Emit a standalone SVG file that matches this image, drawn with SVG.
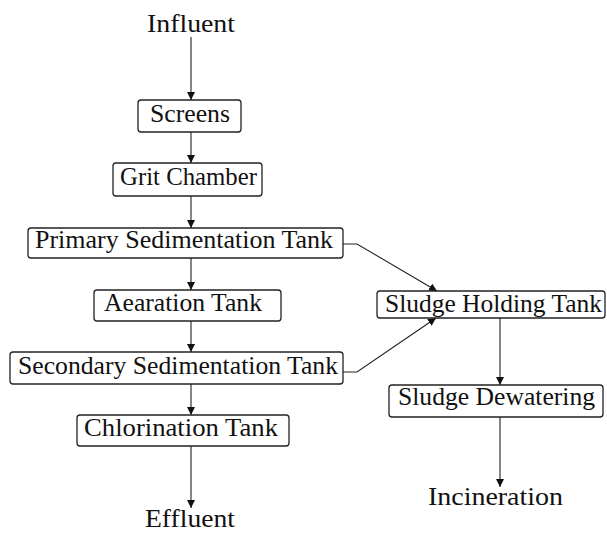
<svg xmlns="http://www.w3.org/2000/svg" width="607" height="534" viewBox="0 0 607 534">
<style>
.box{fill:#fff;stroke:#222;stroke-width:1.3}
.t{font-family:"Liberation Serif","DejaVu Serif",serif;font-size:25px;fill:#111;text-anchor:middle}
.c{fill:none;stroke:#222;stroke-width:1.1}
</style>
<defs>
<marker id="ah" markerUnits="userSpaceOnUse" markerWidth="9" markerHeight="9" refX="8" refY="4" orient="auto">
<path d="M0,0 L8,4 L0,8 z" fill="#111"/>
</marker>
</defs>
<rect width="607" height="534" fill="#fff"/>
<g id="connectors">
<path class="c" d="M191,37 V100" marker-end="url(#ah)"/>
<path class="c" d="M191,132 V163" marker-end="url(#ah)"/>
<path class="c" d="M191,196 V228" marker-end="url(#ah)"/>
<path class="c" d="M191,258 V290" marker-end="url(#ah)"/>
<path class="c" d="M191,321 V352" marker-end="url(#ah)"/>
<path class="c" d="M191,384 V415" marker-end="url(#ah)"/>
<path class="c" d="M191,446 V508" marker-end="url(#ah)"/>
<path class="c" d="M343,244 H357 L437,291" marker-end="url(#ah)"/>
<path class="c" d="M343,372 H357 L436,318" marker-end="url(#ah)"/>
<path class="c" d="M500,318 V385" marker-end="url(#ah)"/>
<path class="c" d="M500,417 V487" marker-end="url(#ah)"/>
</g>
<g id="influent"><text class="t" x="191" y="32" textLength="88" lengthAdjust="spacingAndGlyphs">Influent</text></g>
<g id="screens"><rect class="box" x="138" y="100" width="103" height="32" rx="3"/><text class="t" x="190" y="122" textLength="80" lengthAdjust="spacingAndGlyphs">Screens</text></g>
<g id="grit"><rect class="box" x="113" y="163" width="149" height="33" rx="3"/><text class="t" x="188.5" y="185" textLength="137" lengthAdjust="spacingAndGlyphs">Grit Chamber</text></g>
<g id="primary"><rect class="box" x="28" y="228" width="315" height="30" rx="3"/><text class="t" x="184" y="248" textLength="298" lengthAdjust="spacingAndGlyphs">Primary Sedimentation Tank</text></g>
<g id="aeration"><rect class="box" x="94" y="290" width="187" height="31" rx="3"/><text class="t" x="183" y="311" textLength="158" lengthAdjust="spacingAndGlyphs">Aearation Tank</text></g>
<g id="secondary"><rect class="box" x="10" y="352" width="333" height="32" rx="3"/><text class="t" x="178" y="374" textLength="320" lengthAdjust="spacingAndGlyphs">Secondary Sedimentation Tank</text></g>
<g id="chlorination"><rect class="box" x="77" y="415" width="212" height="31" rx="3"/><text class="t" x="181" y="436" textLength="194" lengthAdjust="spacingAndGlyphs">Chlorination Tank</text></g>
<g id="effluent"><text class="t" x="190" y="527" textLength="90" lengthAdjust="spacingAndGlyphs">Effluent</text></g>
<g id="holding"><rect class="box" x="377" y="291" width="228" height="27" rx="3"/><text class="t" x="493.5" y="312" textLength="217" lengthAdjust="spacingAndGlyphs">Sludge Holding Tank</text></g>
<g id="dewatering"><rect class="box" x="389" y="385" width="214" height="32" rx="3"/><text class="t" x="496.5" y="405" textLength="197" lengthAdjust="spacingAndGlyphs">Sludge Dewatering</text></g>
<g id="incineration"><text class="t" x="495.5" y="505" textLength="135" lengthAdjust="spacingAndGlyphs">Incineration</text></g>
</svg>
